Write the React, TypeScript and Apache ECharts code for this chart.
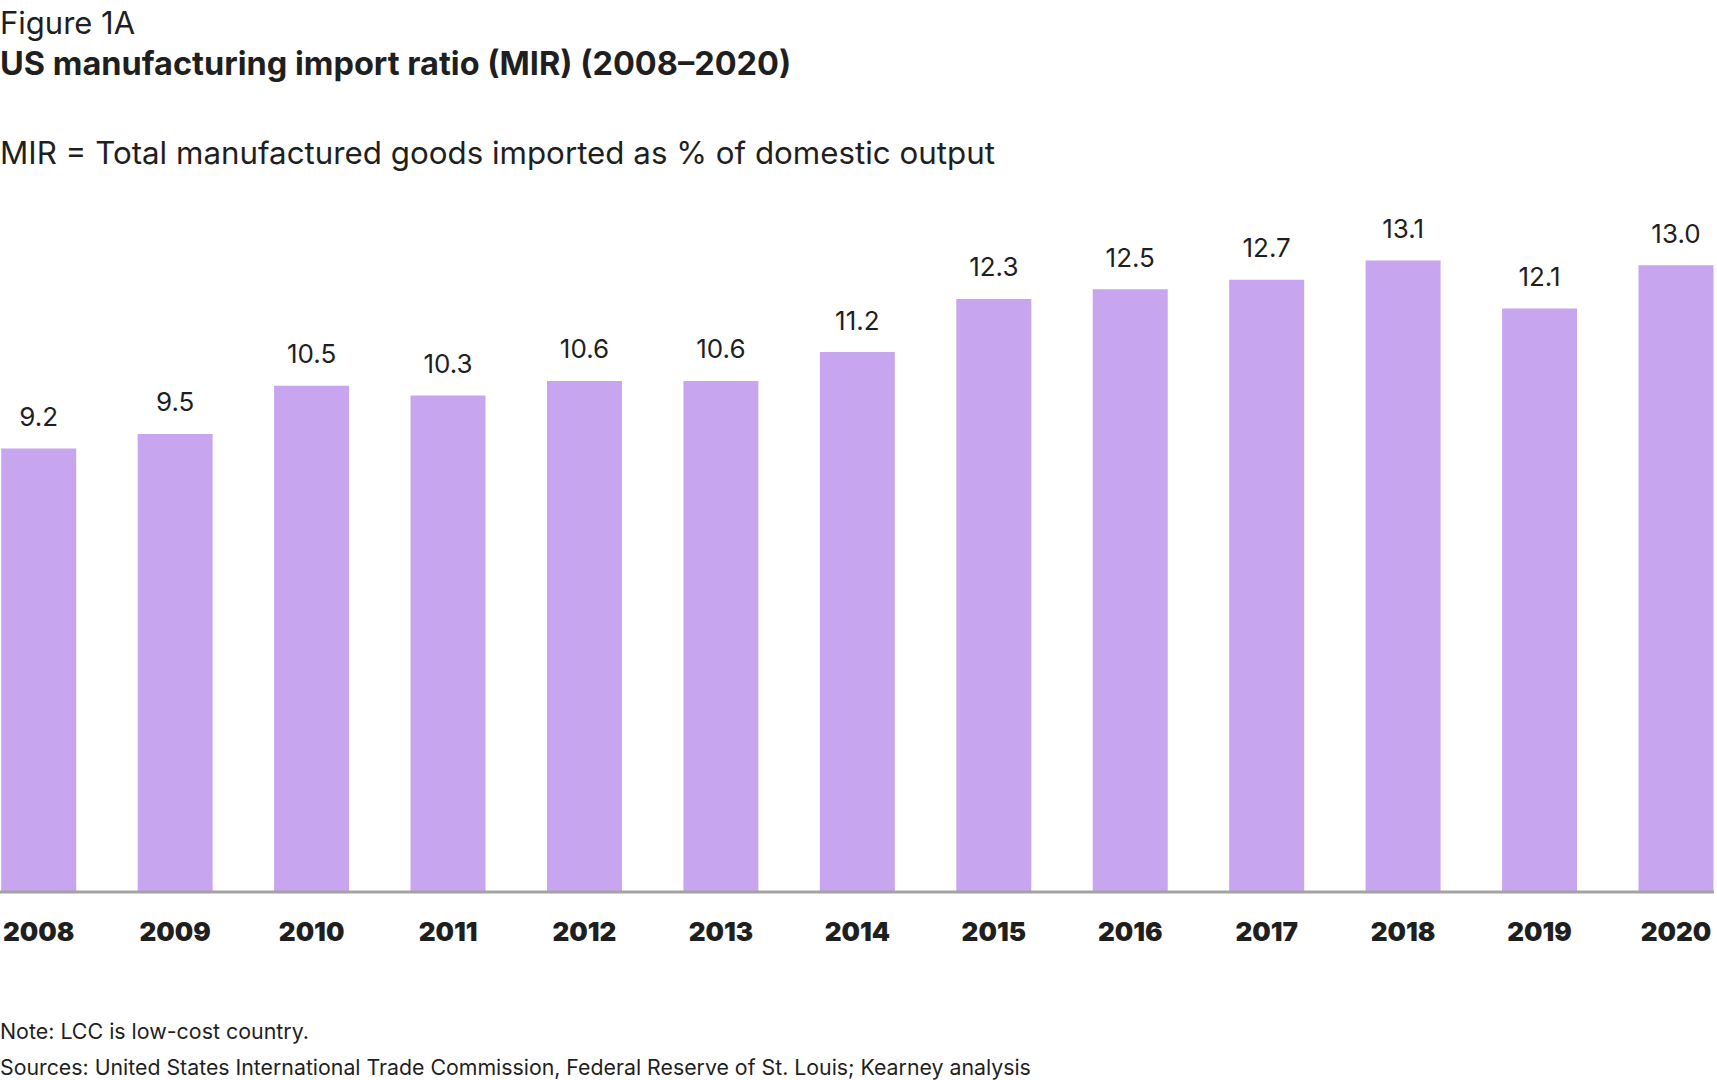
import React, { useEffect, useRef } from "react";
import * as echarts from "echarts";

const years = ["2008", "2009", "2010", "2011", "2012", "2013", "2014", "2015", "2016", "2017", "2018", "2019", "2020"];
const mir = [9.2, 9.5, 10.5, 10.3, 10.6, 10.6, 11.2, 12.3, 12.5, 12.7, 13.1, 12.1, 13.0];

const FONT = "Inter, 'Noto Sans', sans-serif";
const TXT = "#1f1f1f";

export default function App() {
  const ref = useRef<HTMLDivElement>(null);
  useEffect(() => {
    document.body.style.margin = "0";
    if (!ref.current) return;
    const chart = echarts.init(ref.current, null, { renderer: "svg" });
    chart.setOption({
      animation: false,
      backgroundColor: "#ffffff",
      textStyle: { fontFamily: FONT },
      title: [
        { text: "Figure 1A", left: 0, top: 7, padding: 0, textStyle: { fontFamily: FONT, fontSize: 31, fontWeight: 400, color: TXT } },
        { text: "US manufacturing import ratio (MIR) (2008–2020)", left: 0, top: 47, padding: 0, textStyle: { fontFamily: FONT, fontSize: 32.5, fontWeight: 700, color: TXT } },
        { text: "MIR = Total manufactured goods imported as % of domestic output", left: 0, top: 137, padding: 0, textStyle: { fontFamily: FONT, fontSize: 31.3, fontWeight: 400, color: TXT } },
        { text: "Note: LCC is low-cost country.", left: 0, top: 1020, padding: 0, textStyle: { fontFamily: FONT, fontSize: 21.4, fontWeight: 400, color: TXT } },
        { text: "Sources: United States International Trade Commission, Federal Reserve of St. Louis; Kearney analysis", left: 0, top: 1056, padding: 0, textStyle: { fontFamily: FONT, fontSize: 21.3, fontWeight: 400, color: TXT } },
      ],
      grid: { left: 37.5, right: 41, top: 217, bottom: 188, containLabel: false },
      xAxis: {
        type: "category",
        data: years,
        boundaryGap: false,
        axisLine: { show: false },
        axisTick: { show: false },
        axisLabel: { color: TXT, fontFamily: FONT, fontSize: 26, fontWeight: 900, margin: 26 },
      },
      yAxis: {
        type: "value",
        min: 0,
        max: 14,
        show: false,
        splitLine: { show: false },
      },
      graphic: [
        {
          type: "line",
          shape: { x1: 0, y1: 892, x2: 1714, y2: 892 },
          style: { stroke: "#a3a3a3", lineWidth: 3 },
          z: 10,
        },
      ],
      series: [
        {
          type: "bar",
          data: mir,
          barWidth: 75,
          itemStyle: { color: "#c8a6ef" },
          label: {
            show: true,
            position: "top",
            distance: 19,
            color: TXT,
            fontFamily: FONT,
            fontSize: 26,
            formatter: (p: any) => Number(p.value).toFixed(1),
          },
        },
      ],
    });
    return () => chart.dispose();
  }, []);
  return <div ref={ref} style={{ width: 1717, height: 1080 }} />;
}
